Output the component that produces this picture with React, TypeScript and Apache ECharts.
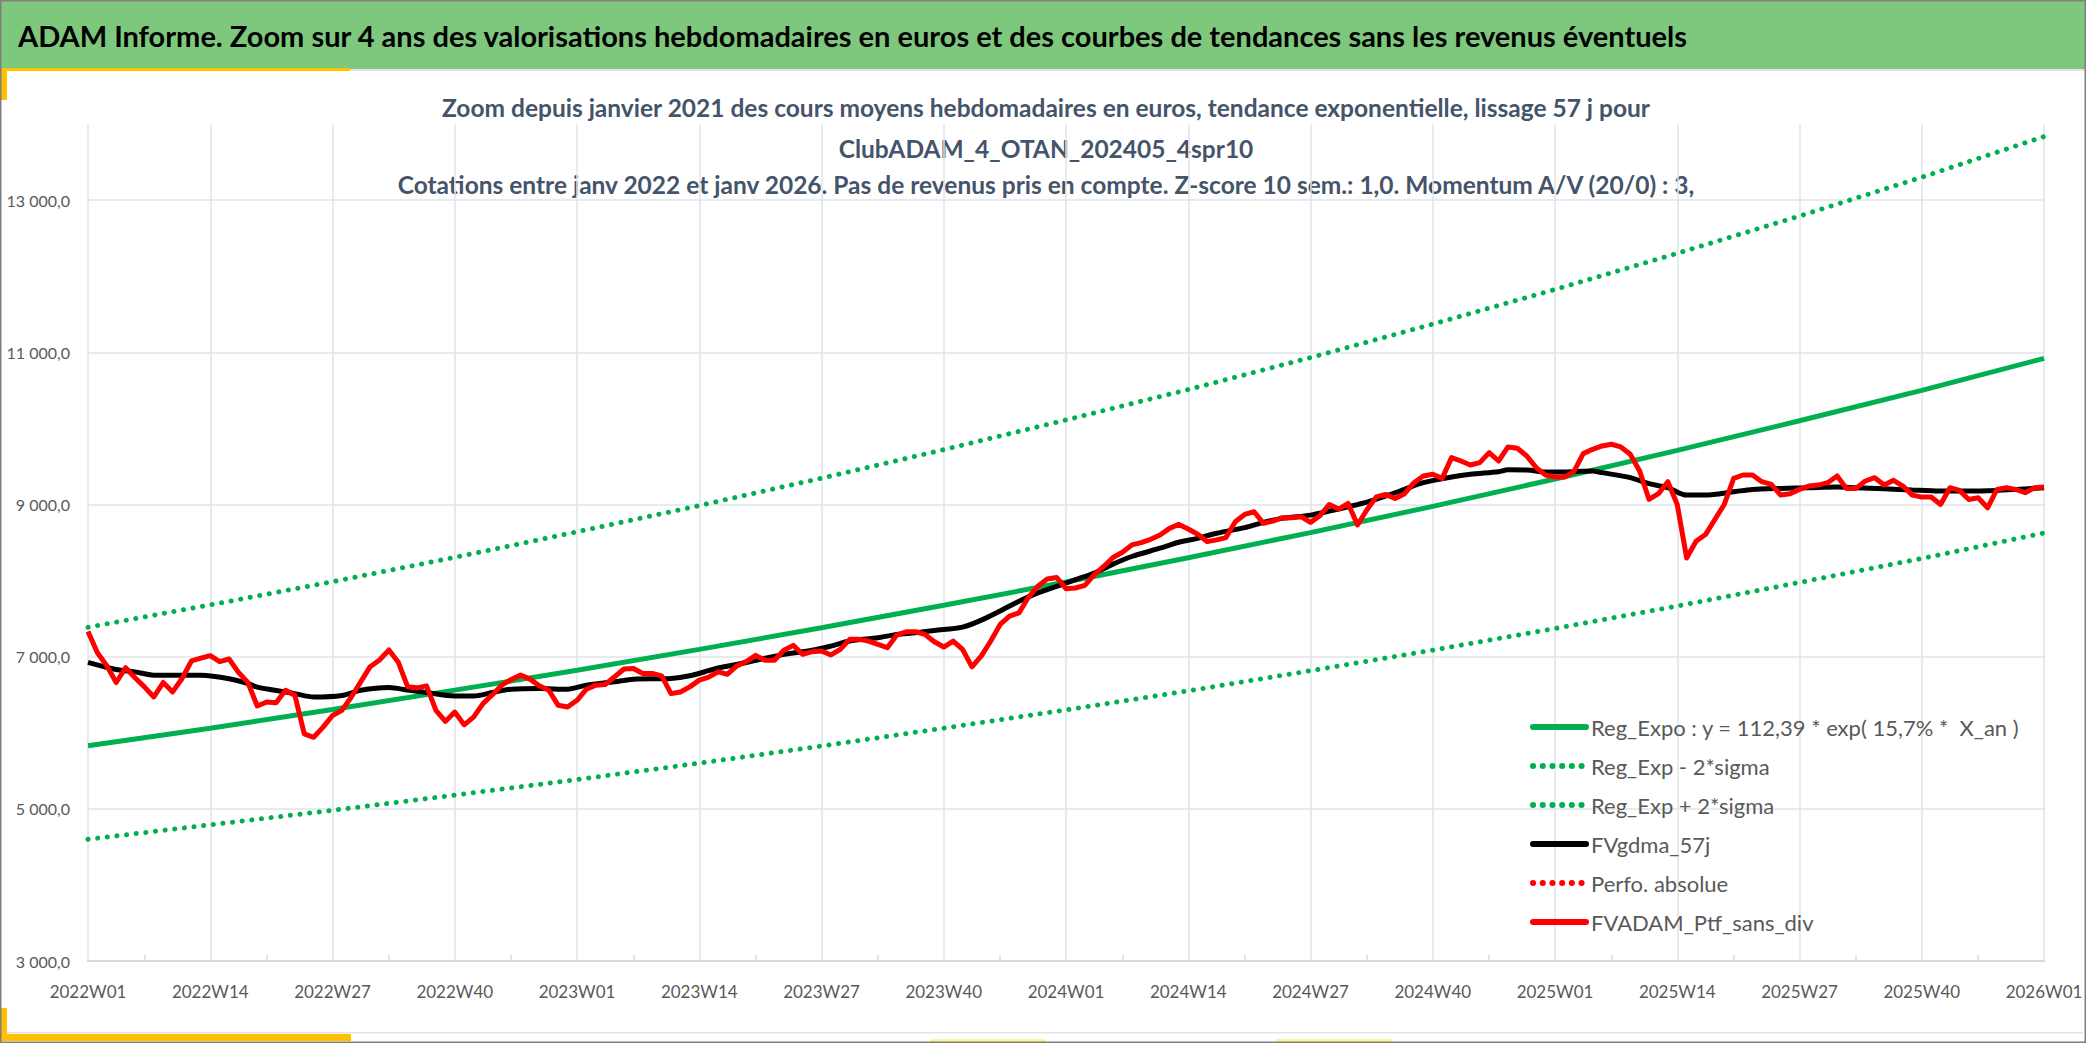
import React, { useEffect, useRef } from 'react';
import * as echarts from 'echarts';

// semaines 2022W01 .. 2026W01
const weeks: string[] = [];
[2022, 2023, 2024, 2025].forEach(y => {
    for (let w = 1; w <= 52; w += 1) weeks.push(`${y}W${String(w).padStart(2, '0')}`);
});
weeks.push('2026W01');

// valorisations hebdomadaires (FVADAM_Ptf_sans_div)
const ptfValues = [
    // 2022
    7330, 7050, 6880, 6660, 6854, 6722, 6603, 6470, 6660, 6536,
    6713, 6943, 6980, 7013, 6934, 6969, 6793, 6660, 6351, 6404,
    6395, 6558, 6492, 5985, 5940, 6073, 6227, 6294, 6470, 6669,
    6868, 6956, 7088, 6925, 6603, 6590, 6616, 6294, 6148, 6272,
    6104, 6205, 6382, 6500, 6625, 6700, 6757, 6704, 6616, 6558,
    6360, 6338,
    // 2023
    6426, 6572, 6625, 6634, 6735, 6837, 6845, 6779, 6779, 6748,
    6514, 6536, 6603, 6691, 6730, 6800, 6769, 6878, 6935, 7017,
    6952, 6952, 7083, 7148, 7030, 7065, 7074, 7022, 7096, 7227,
    7227, 7205, 7161, 7118, 7283, 7327, 7327, 7292, 7196, 7126,
    7205, 7096, 6865, 7009, 7205, 7423, 7532, 7575, 7780, 7924,
    8020, 8041,
    // 2024
    7893, 7902, 7937, 8076, 8185, 8303, 8372, 8468, 8499, 8542,
    8599, 8686, 8738, 8677, 8608, 8512, 8534, 8564, 8773, 8869,
    8904, 8752, 8782, 8826, 8826, 8839, 8765, 8852, 9000, 8939,
    9013, 8730, 8930, 9100, 9132, 9079, 9141, 9286, 9374, 9396,
    9343, 9615, 9571, 9519, 9550, 9681, 9571, 9756, 9739, 9637,
    9484, 9387,
    // 2025
    9360, 9360, 9431, 9668, 9725, 9769, 9791, 9756, 9659, 9440,
    9066, 9141, 9299, 9000, 8297, 8516, 8604, 8802, 9000, 9343,
    9387, 9387, 9299, 9264, 9123, 9141, 9198, 9242, 9255, 9286,
    9374, 9211, 9211, 9308, 9352, 9255, 9317, 9242, 9123, 9097,
    9097, 9000, 9220, 9185, 9066, 9088, 8956, 9198, 9220, 9198,
    9154, 9220,
    // 2026W01
    9229,
];

// lissage 57 j (FVgdma_57j)
const gdmaWeeks = [
    '2022W01', '2022W04', '2022W06', '2022W08', '2022W11', '2022W13', '2022W16', '2022W18', '2022W19', '2022W22',
    '2022W23', '2022W25', '2022W28', '2022W30', '2022W33', '2022W35', '2022W37', '2022W40', '2022W42', '2022W44',
    '2022W46', '2022W49', '2022W52', '2023W02', '2023W05', '2023W07', '2023W11', '2023W13', '2023W15', '2023W16',
    '2023W19', '2023W21', '2023W23', '2023W26', '2023W28', '2023W30', '2023W33', '2023W35', '2023W37', '2023W39',
    '2023W42', '2023W44', '2023W46', '2023W48', '2023W50', '2023W52', '2024W02', '2024W04', '2024W06', '2024W08',
    '2024W11', '2024W13', '2024W15', '2024W17', '2024W20', '2024W22', '2024W24', '2024W27', '2024W29', '2024W31',
    '2024W33', '2024W35', '2024W37', '2024W39', '2024W42', '2024W44', '2024W47', '2024W48', '2024W50', '2024W52',
    '2025W03', '2025W05', '2025W06', '2025W09', '2025W11', '2025W13', '2025W15', '2025W17', '2025W20', '2025W22',
    '2025W25', '2025W28', '2025W31', '2025W33', '2025W36', '2025W39', '2025W42', '2025W45', '2025W48', '2025W50',
    '2026W01',
];
const gdmaValues = [
    6925, 6830, 6800, 6757, 6757, 6755, 6710, 6647, 6600, 6536,
    6514, 6470, 6490, 6558, 6594, 6560, 6528, 6483, 6483, 6528,
    6572, 6580, 6572, 6625, 6669, 6704, 6713, 6748, 6815, 6850,
    6922, 6978, 7030, 7083, 7139, 7205, 7248, 7292, 7314, 7344,
    7388, 7480, 7600, 7728, 7837, 7924, 8011, 8098, 8216, 8316,
    8425, 8503, 8555, 8621, 8695, 8765, 8817, 8860, 8913, 8969,
    9030, 9110, 9198, 9286, 9360, 9396, 9431, 9455, 9453, 9426,
    9431, 9440, 9418, 9352, 9273, 9220, 9123, 9123, 9167, 9198,
    9211, 9220, 9229, 9220, 9207, 9189, 9176, 9176, 9185, 9198,
    9220,
];

// tendance exponentielle et bandes +/- 2 sigma, lues toutes les 13 semaines
const trendWeeks = [
    '2022W01', '2022W14', '2022W27', '2022W40', '2023W01', '2023W14', '2023W27', '2023W40', '2024W01',
    '2024W14', '2024W27', '2024W40', '2025W01', '2025W14', '2025W27', '2025W40', '2026W01',
];
const regExpo = [5830, 6060, 6305, 6560, 6820, 7095, 7380, 7675, 7980, 8300, 8630, 8975, 9335, 9710, 10100, 10500, 10920];
const regMinus = [4600, 4790, 4980, 5180, 5385, 5600, 5825, 6060, 6300, 6550, 6815, 7085, 7370, 7665, 7975, 8290, 8625];
const regPlus = [7385, 7680, 7985, 8305, 8640, 8985, 9345, 9720, 10110, 10510, 10930, 11370, 11825, 12300, 12790, 13300, 13835];

const headerText = 'ADAM Informe. Zoom sur 4 ans des valorisations hebdomadaires en euros et des courbes de tendances sans les revenus éventuels';
const titleLines = [
    'Zoom depuis janvier 2021 des cours moyens hebdomadaires en euros, tendance exponentielle, lissage 57 j pour',
    'ClubADAM_4_OTAN_202405_4spr10',
    'Cotations entre janv 2022 et janv 2026. Pas de revenus pris en compte. Z-score 10 sem.: 1,0. Momentum A/V (20/0) : 3,',
];

const GREEN = '#00B050';
const FONT = 'Lato';

const fmtY = (v: number) => `${String(v).replace(/\B(?=(\d{3})+(?!\d))/g, ' ')},0`;

const App: React.FC = () => {
    const chartRef = useRef<HTMLDivElement>(null);

    useEffect(() => {
        if (!chartRef.current) return;
        const chart = echarts.init(chartRef.current, undefined, { renderer: 'svg' });

        const pairs = (xs: string[], ys: number[]) => xs.map((x, i) => [x, ys[i]]);
        const dotted = { color: GREEN, width: 5, type: [0.1, 9.6], cap: 'round' as const };

        chart.setOption({
            animation: false,
            backgroundColor: '#ffffff',
            textStyle: { fontFamily: FONT },
            grid: { left: 88, right: 42, top: 124, bottom: 82, containLabel: false },
            legend: {
                orient: 'vertical',
                left: 1525,
                top: 711,
                itemWidth: 53,
                itemHeight: 22,
                itemGap: 17,
                itemStyle: { opacity: 0 },
                lineStyle: { width: 6, cap: 'round' },
                textStyle: { fontSize: 22, lineHeight: 22, color: '#595959', fontFamily: FONT },
                data: [
                    'Reg_Expo : y = 112,39 * exp( 15,7% *  X_an )',
                    'Reg_Exp - 2*sigma',
                    'Reg_Exp + 2*sigma',
                    'FVgdma_57j',
                    'Perfo. absolue',
                    'FVADAM_Ptf_sans_div',
                ],
            },
            xAxis: {
                type: 'category',
                data: weeks,
                boundaryGap: false,
                axisLine: { show: true, lineStyle: { color: '#D9D9D9', width: 2 } },
                axisTick: {
                    show: true,
                    inside: true,
                    length: 6,
                    interval: (i: number) => i % 13 === 6,
                    lineStyle: { color: '#D9D9D9', width: 1.5 },
                },
                axisLabel: { interval: 12, fontSize: 17, color: '#595959', margin: 22, fontFamily: FONT },
                splitLine: { show: true, interval: 12, lineStyle: { color: '#E1E4E8', width: 1.5 } },
            },
            yAxis: {
                type: 'value',
                min: 3000,
                max: 14000,
                interval: 1000,
                axisLine: { show: false },
                axisTick: { show: false },
                axisLabel: {
                    fontSize: 16,
                    color: '#595959',
                    margin: 18,
                    fontFamily: FONT,
                    formatter: (v: number) => ((v / 1000) % 2 === 1 ? fmtY(v) : ''),
                },
                splitLine: {
                    show: true,
                    lineStyle: { color: ['#E1E4E8', 'rgba(0,0,0,0)'], width: 1.5 },
                },
            },
            graphic: [
                { type: 'rect', shape: { x: 0, y: 0, width: 2086, height: 69 }, style: { fill: '#7EC87E' } },
                {
                    type: 'text',
                    x: 18,
                    y: 35,
                    style: {
                        text: headerText,
                        font: `bold 29px ${FONT}`,
                        fill: '#000000',
                        textVerticalAlign: 'middle',
                    },
                },
                { type: 'rect', shape: { x: 350, y: 69, width: 1736, height: 2 }, style: { fill: '#E2E2E2' } },
                { type: 'rect', shape: { x: 0, y: 68, width: 350, height: 3 }, style: { fill: '#FFC000' } },
                { type: 'rect', shape: { x: 0, y: 68, width: 7, height: 32 }, style: { fill: '#FFC000' } },
                { type: 'rect', shape: { x: 7, y: 1032, width: 2076, height: 1.5 }, style: { fill: '#E4E4E4' } },
                { type: 'rect', shape: { x: 0, y: 1034, width: 351, height: 7 }, style: { fill: '#FFC000' } },
                { type: 'rect', shape: { x: 0, y: 1008, width: 7, height: 33 }, style: { fill: '#FFC000' } },
                { type: 'rect', shape: { x: 930, y: 1039, width: 116, height: 3 }, style: { fill: '#FFF59D' } },
                { type: 'rect', shape: { x: 1276, y: 1039, width: 116, height: 3 }, style: { fill: '#FFF59D' } },
                {
                    type: 'rect',
                    shape: { x: 0.75, y: 0.75, width: 2084.5, height: 1041.5 },
                    style: { fill: 'none', stroke: '#7F7F7F', lineWidth: 1.5 },
                },
                ...titleLines.map((t, i) => ({
                    type: 'text',
                    x: 1046,
                    y: [107, 148, 184][i],
                    style: {
                        text: t,
                        font: `bold 24.5px ${FONT}`,
                        fill: '#44546A',
                        textAlign: 'center',
                        textVerticalAlign: 'middle',
                    },
                })),
            ],
            series: [
                {
                    name: 'Reg_Expo : y = 112,39 * exp( 15,7% *  X_an )',
                    type: 'line',
                    data: pairs(trendWeeks, regExpo),
                    symbol: 'none',
                    itemStyle: { color: GREEN },
                    lineStyle: { color: GREEN, width: 5 },
                },
                {
                    name: 'Reg_Exp - 2*sigma',
                    type: 'line',
                    data: pairs(trendWeeks, regMinus),
                    symbol: 'none',
                    itemStyle: { color: GREEN },
                    lineStyle: dotted,
                },
                {
                    name: 'Reg_Exp + 2*sigma',
                    type: 'line',
                    data: pairs(trendWeeks, regPlus),
                    symbol: 'none',
                    itemStyle: { color: GREEN },
                    lineStyle: dotted,
                },
                {
                    name: 'FVgdma_57j',
                    type: 'line',
                    data: pairs(gdmaWeeks, gdmaValues),
                    symbol: 'none',
                    smooth: 0.3,
                    itemStyle: { color: '#000000' },
                    lineStyle: { color: '#000000', width: 5 },
                },
                {
                    name: 'Perfo. absolue',
                    type: 'line',
                    data: [],
                    symbol: 'none',
                    itemStyle: { color: '#FF0000' },
                    lineStyle: { color: '#FF0000', width: 5, type: [0.1, 9.6], cap: 'round' },
                },
                {
                    name: 'FVADAM_Ptf_sans_div',
                    type: 'line',
                    data: ptfValues,
                    symbol: 'none',
                    itemStyle: { color: '#FF0000' },
                    lineStyle: { color: '#FF0000', width: 5, join: 'round' },
                },
            ],
        });

        return () => {
            chart.dispose();
        };
    }, []);

    return (
        <div
            ref={chartRef}
            style={{ position: 'fixed', left: 0, top: 0, width: 2086, height: 1043, background: '#ffffff' }}
        />
    );
};

export default App;
